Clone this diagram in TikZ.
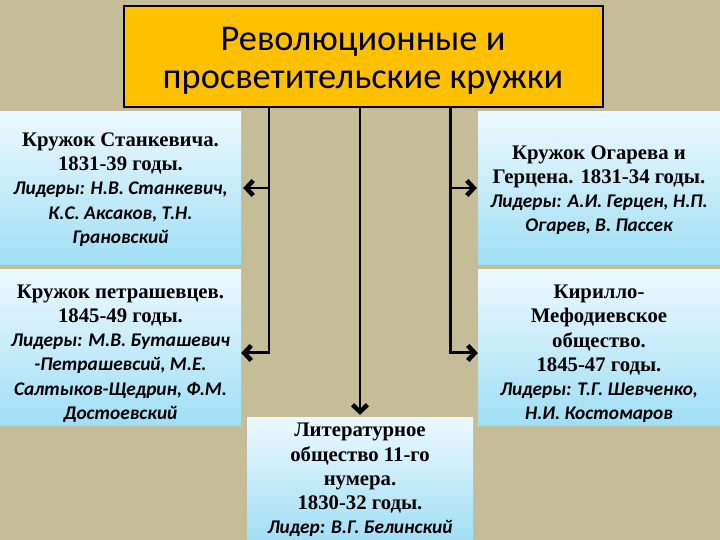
\documentclass[tikz,border=0pt]{standalone}
\usepackage{fontspec}
\setmainfont{Liberation Serif}
\newfontfamily\calfont{Carlito}
\newfontfamily\ldrfont{Carlito Bold Italic}
\usetikzlibrary{arrows.meta,calc}
\definecolor{bgtan}{RGB}{196,189,151}
\definecolor{gold}{RGB}{255,192,0}
\definecolor{lbtop}{RGB}{236,249,254}
\definecolor{lbbot}{RGB}{160,222,245}
\tikzset{
  boxstyle/.style={rectangle, inner sep=0pt, top color=lbtop, bottom color=lbbot},
  boxtext/.style={inner sep=0pt, align=center, font=\bfseries\fontsize{20.8}{24.3}\selectfont},
  titlestyle/.style={rectangle, draw=black, line width=2.2pt, fill=gold, inner sep=0pt},
  titletext/.style={inner sep=0pt, align=center, font=\calfont\fontsize{36.5}{38}\selectfont},
  ln/.style={line width=3pt, black},
  arr/.style={ln, -{Straight Barb[length=7pt,width=15pt,line width=4.5pt]}},
}
\newcommand{\ldr}[1]{{\mdseries\upshape\ldrfont\fontsize{19.4}{24.3}\selectfont #1}}
\begin{document}
\begin{tikzpicture}[x=1bp,y=-1bp]
\fill[bgtan] (0,0) rectangle (720,540);
\useasboundingbox (0,0) rectangle (720,540);

\node[titlestyle, minimum width=479bp, minimum height=101bp] (t) at (363.5,56.5) {};
\node[titletext] (tt) at (363,61) {Революционные и\\просветительские кружки};

\node[boxstyle, minimum width=241bp, minimum height=152bp] (b1) at (120.5,188) {};
\node[boxtext] (b1t) at (120.5,189.5)
  {Кружок Станкевича.\\1831-39 годы.\\\ldr{Лидеры: Н.В. Станкевич,}\\\ldr{К.С. Аксаков, Т.Н.}\\\ldr{Грановский}};

\node[boxstyle, minimum width=241bp, minimum height=155bp] (b2) at (120.5,347.5) {};
\node[boxtext] (b2t) at (120.5,353.5)
  {Кружок петрашевцев.\\1845-49 годы.\\\ldr{Лидеры: М.В. Буташевич}\\\ldr{-Петрашевсий, М.Е.}\\\ldr{Салтыков-Щедрин, Ф.М.}\\\ldr{Достоевский}};

\node[boxstyle, minimum width=242bp, minimum height=152bp] (b3) at (599,188) {};
\node[boxtext] (b3t) at (599,190)
  {Кружок Огарева и\\Герцена. 1831-34 годы.\\\ldr{Лидеры: А.И. Герцен, Н.П.}\\\ldr{Огарев, В. Пассек}};

\node[boxstyle, minimum width=242bp, minimum height=155bp] (b4) at (599,347.5) {};
\node[boxtext] (b4t) at (599,354)
  {Кирилло-\\Мефодиевское\\общество.\\1845-47 годы.\\\ldr{Лидеры: Т.Г. Шевченко,}\\\ldr{Н.И. Костомаров}};

\node[boxstyle, minimum width=226bp, minimum height=124bp] (m) at (360,479) {};
\node[boxtext] (mt) at (360,480)
  {Литературное\\общество 11-го\\нумера.\\1830-32 годы.\\\ldr{Лидер: В.Г. Белинский}};

\coordinate (lx) at (269,0);
\coordinate (rx) at (450,0);

\draw[arr] (t.south -| lx) |- ([yshift=-5.5pt]b2.east);
\draw[arr] (lx |- b1.east) -- ([xshift=2pt]b1.east);
\draw[arr] (t.south -| rx) |- ([yshift=-5.5pt]b4.west);
\draw[arr] (rx |- b3.west) -- ([xshift=-1pt]b3.west);
\draw[arr] (t.south -| m.north) -- ([yshift=2pt]m.north);
\end{tikzpicture}
\end{document}
